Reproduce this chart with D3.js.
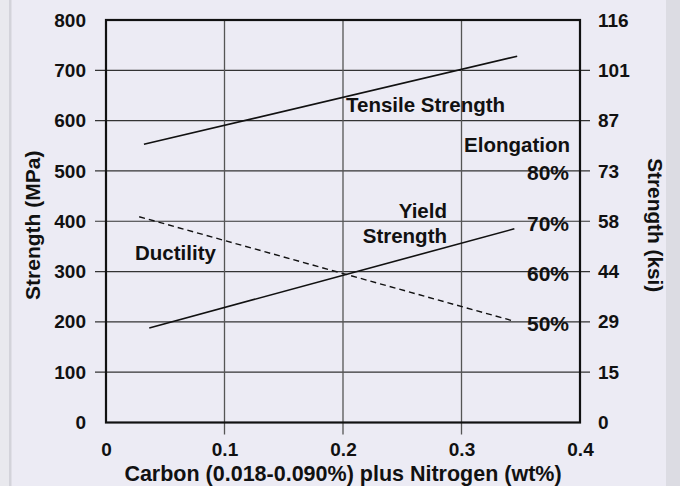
<!DOCTYPE html>
<html>
<head>
<meta charset="utf-8">
<script src="https://cdn.jsdelivr.net/npm/d3@7"></script>
<style>
  html, body { margin: 0; padding: 0; background: #ecebf4; }
  svg { display: block; }
  text { font-family: "Liberation Sans", Arial, Helvetica, sans-serif; font-weight: bold; fill: #111; }
</style>
</head>
<body>
<svg id="chart" width="680" height="486"></svg>
<script>
// ---- data ----
const xTickValues = [0, 0.1, 0.2, 0.3, 0.4];
const mpaTickValues = [0, 100, 200, 300, 400, 500, 600, 700, 800];
const ksiTickLabels = ["0", "15", "29", "44", "58", "73", "87", "101", "116"];
const elongationTicks = [50, 60, 70, 80];

const tensileX = [0.032, 0.347];
const tensileMPa = [553, 728];
const yieldX = [0.0365, 0.3446];
const yieldMPa = [188, 385];
const ductilityX = [0.028, 0.3435];
const ductilityElong = [70.9, 50.2];

// ---- layout ----
const svg = d3.select("#chart");
const pLeft = 106, pRight = 580, pTop = 20, pBottom = 422.5;

const x = d3.scaleLinear().domain([0, 0.4]).range([pLeft, pRight]);
const y = d3.scaleLinear().domain([0, 800]).range([pBottom, pTop]);
const yElong = d3.scaleLinear().domain([30, 110]).range([pBottom, pTop]);
const yKsi = d3.scalePoint().domain(ksiTickLabels).range([pBottom, pTop]);

// side strips
svg.append("rect").attr("x", 0).attr("y", 0).attr("width", 9).attr("height", 486).attr("fill", "#e9e9ee");
svg.append("rect").attr("x", 9).attr("y", 0).attr("width", 2.5).attr("height", 486).attr("fill", "#d3d3da");
svg.append("rect").attr("x", 666).attr("y", 0).attr("width", 14).attr("height", 486).attr("fill", "#dcdce3");

// horizontal gridlines (with outside ticks)
svg.append("g").selectAll("line")
  .data(mpaTickValues.filter(d => d > 0 && d < 800))
  .join("line")
  .attr("x1", pLeft - 11).attr("x2", pRight + 10)
  .attr("y1", d => y(d)).attr("y2", d => y(d))
  .attr("stroke", "#333").attr("stroke-width", 1.2);

// vertical gridlines (with outside ticks)
svg.append("g").selectAll("line")
  .data(xTickValues.filter(d => d > 0 && d < 0.4))
  .join("line")
  .attr("x1", d => x(d)).attr("x2", d => x(d))
  .attr("y1", pTop).attr("y2", pBottom + 12)
  .attr("stroke", "#555").attr("stroke-width", 1.3);

// plot border
svg.append("rect")
  .attr("x", pLeft).attr("y", pTop)
  .attr("width", pRight - pLeft).attr("height", pBottom - pTop)
  .attr("fill", "none").attr("stroke", "#111").attr("stroke-width", 2.2);

// axes labels
const axL = svg.append("g").attr("transform", `translate(${pLeft - 20},0)`)
  .call(d3.axisLeft(y).tickValues(mpaTickValues).tickSize(0).tickPadding(0));
const axR = svg.append("g").attr("transform", `translate(${pRight + 18},0)`)
  .call(d3.axisRight(yKsi).tickSize(0).tickPadding(0));
const axB = svg.append("g").attr("transform", `translate(0,${pBottom + 20})`)
  .call(d3.axisBottom(x).tickValues(xTickValues).tickSize(0).tickPadding(0)
    .tickFormat(d => d === 0 ? "0" : d3.format(".1f")(d)));
[axL, axR, axB].forEach(g => {
  g.select(".domain").remove();
  g.selectAll("text")
    .style("font-family", '"Liberation Sans", Arial, sans-serif')
    .style("font-weight", "bold")
    .style("font-size", "19px")
    .attr("fill", "#111");
});
axB.selectAll("text").attr("dy", "0.71em");

// lines
const line = d3.line();
svg.append("path")
  .attr("d", line(tensileX.map((d, i) => [x(d), y(tensileMPa[i])])))
  .attr("fill", "none").attr("stroke", "#111").attr("stroke-width", 1.6);
svg.append("path")
  .attr("d", line(yieldX.map((d, i) => [x(d), y(yieldMPa[i])])))
  .attr("fill", "none").attr("stroke", "#111").attr("stroke-width", 1.6);
svg.append("path")
  .attr("d", line(ductilityX.map((d, i) => [x(d), yElong(ductilityElong[i])])))
  .attr("fill", "none").attr("stroke", "#111").attr("stroke-width", 1.4)
  .attr("stroke-dasharray", "6,4");

// elongation labels
svg.append("g").selectAll("text")
  .data(elongationTicks)
  .join("text")
  .attr("x", 569).attr("y", d => yElong(d) + 9.5)
  .attr("text-anchor", "end")
  .style("font-size", "21px")
  .text(d => d + "%");

// annotations
function label(txt, xx, yy, anchor, size) {
  svg.append("text").attr("x", xx).attr("y", yy)
    .attr("text-anchor", anchor || "start")
    .style("font-size", (size || 20.5) + "px")
    .text(txt);
}
label("Tensile Strength", 346, 112);
label("Elongation", 570, 152, "end");
label("Yield", 447, 218, "end");
label("Strength", 447, 243, "end");
label("Ductility", 135, 260);

// axis titles
label("Carbon (0.018-0.090%) plus Nitrogen (wt%)", (pLeft + pRight) / 2, 481, "middle", 21.5);
svg.append("text")
  .attr("transform", `translate(40,${(pTop + pBottom) / 2 + 4}) rotate(-90)`)
  .attr("text-anchor", "middle")
  .style("font-size", "21px")
  .text("Strength (MPa)");
svg.append("text")
  .attr("transform", `translate(648,${(pTop + pBottom) / 2 + 4}) rotate(90)`)
  .attr("text-anchor", "middle")
  .style("font-size", "20.8px")
  .text("Strength (ksi)");
</script>
</body>
</html>
